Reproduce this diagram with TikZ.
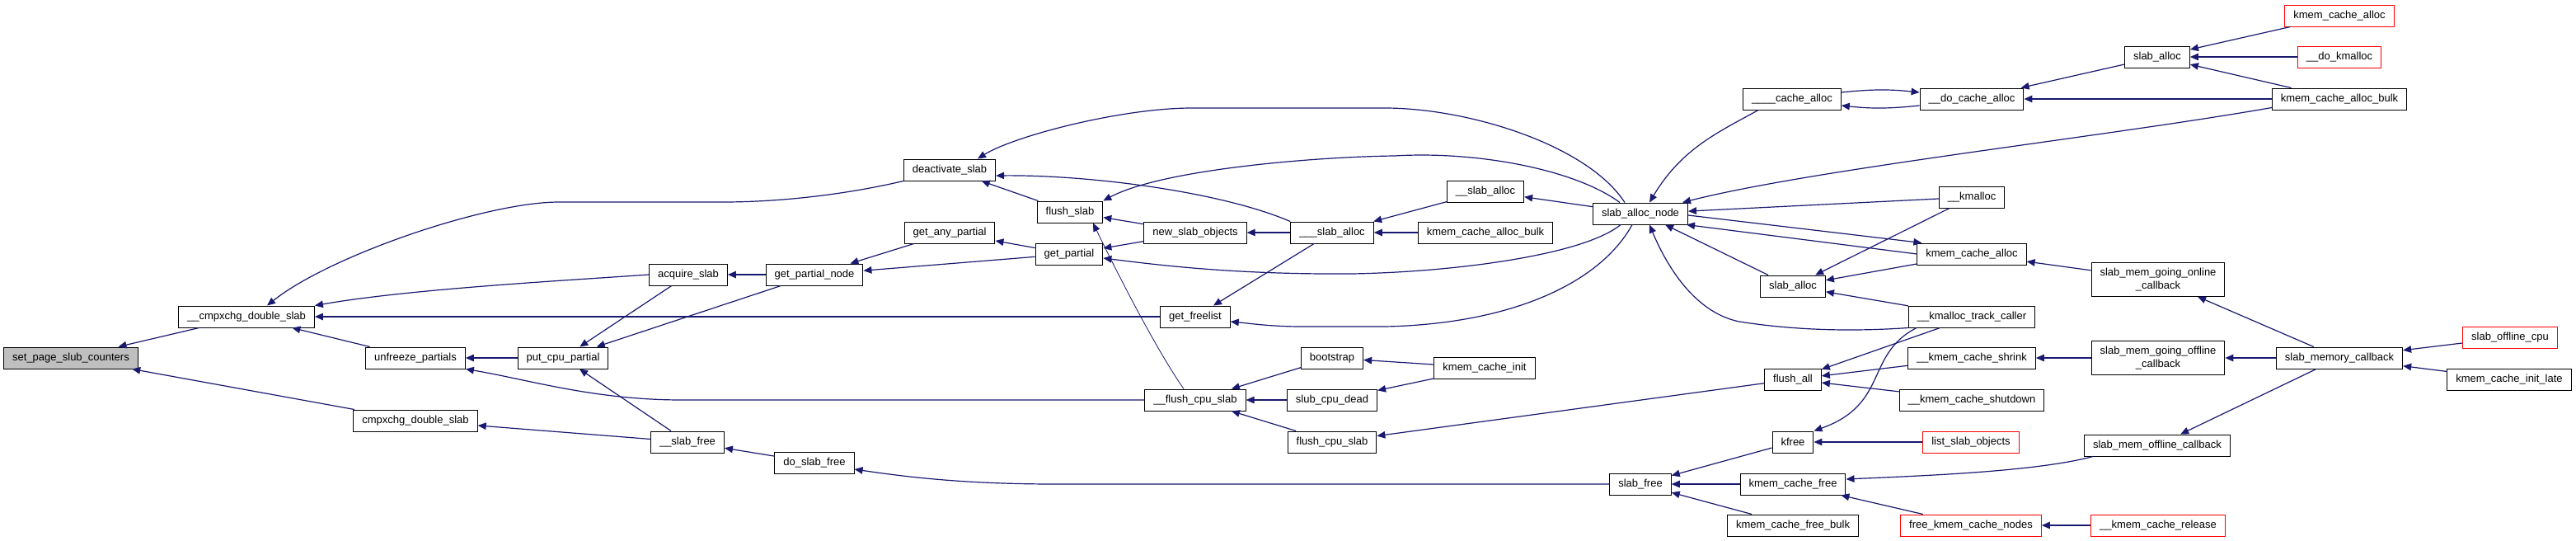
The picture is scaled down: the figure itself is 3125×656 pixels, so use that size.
\documentclass[tikz,border=0pt]{standalone}
\usepackage{fontspec}
\setmainfont{Liberation Sans}
\usetikzlibrary{arrows.meta}
\definecolor{edgeblue}{HTML}{191970}
\definecolor{rootgray}{HTML}{BFBFBF}
\tikzset{
  fn/.style={draw=black, line width=1pt, fill=white, rectangle, align=center,
             font=\fontsize{13}{15.5}\selectfont, minimum height=26pt,
             inner xsep=10.5pt, inner ysep=6.5pt},
  fnroot/.style={fn, fill=rootgray},
  fntrunc/.style={fn, draw=red},
  call/.style={-{Triangle[length=10pt, width=8.5pt]}, line width=1.2pt, draw=edgeblue},
}
\begin{document}
\begin{tikzpicture}[x=1pt, y=-1pt]
    \fill[white] (0,0) rectangle (3125,656);
    \useasboundingbox (0,0) rectangle (3125,656);
    \node[fnroot] (sps) at (86,434) {set\_page\_slub\_counters};
    \node[fn] (cds) at (299,384) {\_\_cmpxchg\_double\_slab};
    \node[fn] (cdsl) at (504,510) {cmpxchg\_double\_slab};
    \node[fn] (up) at (504,434) {unfreeze\_partials};
    \node[fn] (pcp) at (683,434) {put\_cpu\_partial};
    \node[fn] (as) at (835,333) {acquire\_slab};
    \node[fn] (sf) at (834,536) {\_\_slab\_free};
    \node[fn] (gpn) at (988,333) {get\_partial\_node};
    \node[fn] (dsf) at (988,561) {do\_slab\_free};
    \node[fn] (ds) at (1152,206) {deactivate\_slab};
    \node[fn] (gap) at (1152,282) {get\_any\_partial};
    \node[fn] (fs) at (1298,257) {flush\_slab};
    \node[fn] (gp) at (1297,308) {get\_partial};
    \node[fn] (nso) at (1450,282) {new\_slab\_objects};
    \node[fn] (gf) at (1450,384) {get\_freelist};
    \node[fn] (fcs) at (1450,485) {\_\_flush\_cpu\_slab};
    \node[fn] (tsa) at (1616,282) {\_\_\_slab\_alloc};
    \node[fn] (bs) at (1616,434) {bootstrap};
    \node[fn] (scd) at (1616,485) {slub\_cpu\_dead};
    \node[fn] (fcps) at (1616,536) {flush\_cpu\_slab};
    \node[fn] (usa) at (1802,232) {\_\_slab\_alloc};
    \node[fn] (kcabm) at (1802,282) {kmem\_cache\_alloc\_bulk};
    \node[fn] (kci) at (1801,446) {kmem\_cache\_init};
    \node[fn] (san) at (1990,259) {slab\_alloc\_node};
    \node[fn] (slf) at (1990,587) {slab\_free};
    \node[fn] (ca4) at (2174,120) {\_\_\_\_cache\_alloc};
    \node[fn] (sam) at (2175,347) {slab\_alloc};
    \node[fn] (fa) at (2175,460) {flush\_all};
    \node[fn] (kf) at (2175,536) {kfree};
    \node[fn] (kcf) at (2175,587) {kmem\_cache\_free};
    \node[fn] (kcfb) at (2175,637) {kmem\_cache\_free\_bulk};
    \node[fn] (dca) at (2392,120) {\_\_do\_cache\_alloc};
    \node[fn] (km) at (2392,239) {\_\_kmalloc};
    \node[fn] (kcam) at (2392,308) {kmem\_cache\_alloc};
    \node[fn] (kmtc) at (2392,384) {\_\_kmalloc\_track\_caller};
    \node[fn] (kcs) at (2392,434) {\_\_kmem\_cache\_shrink};
    \node[fn] (kcsd) at (2392,485) {\_\_kmem\_cache\_shutdown};
    \node[fntrunc] (lso) at (2391,536) {list\_slab\_objects};
    \node[fntrunc] (fkcn) at (2391,637) {free\_kmem\_cache\_nodes};
    \node[fn] (sat) at (2617,69) {slab\_alloc};
    \node[fn] (smgoc) at (2618,339) {slab\_mem\_going\_online\\\_callback};
    \node[fn] (smgofc) at (2618,434) {slab\_mem\_going\_offline\\\_callback};
    \node[fn] (smoc) at (2617,540) {slab\_mem\_offline\_callback};
    \node[fntrunc] (kcr) at (2618,637) {\_\_kmem\_cache\_release};
    \node[fntrunc] (kcar) at (2838,19) {kmem\_cache\_alloc};
    \node[fntrunc] (dkm) at (2838,69) {\_\_do\_kmalloc};
    \node[fn] (kcabt) at (2838,120) {kmem\_cache\_alloc\_bulk};
    \node[fn] (smc) at (2838,434) {slab\_memory\_callback};
    \node[fntrunc] (soc) at (3045,409) {slab\_offline\_cpu};
    \node[fn] (kcil) at (3044,460) {kmem\_cache\_init\_late};

    \draw[call] (cds) -- (sps);
    \draw[call] (cdsl) -- (sps);
    \draw[call] (ds.south west) .. controls (1030,235) and (950,245) .. (877,245) -- (678,245)
      .. controls (590,245) and (400,310) .. ([xshift=25pt]cds.north);
    \draw[call] (as.west) .. controls (690,340) and (500,350) .. (cds.north east);
    \draw[call] (gf) -- (cds);
    \draw[call] (up) -- (cds);
    \draw[call] (pcp) -- (up);
    \draw[call] (fcs.west) -- (827,485) .. controls (720,485) and (640,460) .. (up.south east);
    \draw[call] (as) -- (pcp);
    \draw[call] (gpn) -- (pcp);
    \draw[call] (sf) -- (pcp);
    \draw[call] (sf) -- (cdsl);
    \draw[call] (dsf) -- (sf);
    \draw[call] (slf.west) -- (1280,587) .. controls (1180,587) and (1110,580) .. ([yshift=-8pt]dsf.east);
    \draw[call] (gpn) -- (as);
    \draw[call] (gap) -- (gpn);
    \draw[call] (gp) -- (gpn);
    \draw[call] (gp) -- (gap);
    \draw[call] (nso) -- (gp);
    \draw[call] (nso) -- (fs);
    \draw[call] (fs) -- (ds);
    \draw[call] (tsa.north west) .. controls (1480,232) and (1320,212) .. ([yshift=-7pt]ds.east);
    \draw[call] ([xshift=-19pt]san.north) .. controls (1925,175) and (1780,131) .. (1680,131) -- (1446,131)
      .. controls (1360,131) and (1230,165) .. ([xshift=34pt]ds.north);
    \draw[call] ([xshift=-25pt]san.north) .. controls (1910,205) and (1790,183) .. (1692,189)
      .. controls (1600,190) and (1410,205) .. (fs.north east);
    \draw[call] (tsa) -- (nso);
    \draw[call] ([xshift=-24pt]san.south) .. controls (1920,310) and (1760,330) .. (1640,332)
      .. controls (1500,333) and (1410,322) .. ([yshift=-5pt]gp.east);
    \draw[call] (tsa) -- (gf);
    \draw[call] ([xshift=-10pt]san.south) .. controls (1940,345) and (1830,393) .. (1680,396) -- (1580,396)
      .. controls (1540,396) and (1515,392) .. ([yshift=-6pt]gf.east);
    \draw[call, line width=0.8pt] ([xshift=-14pt]fcs.north) .. controls (1400,420) and (1350,320) .. ([xshift=28pt]fs.south);
    \draw[call] (bs) -- (fcs);
    \draw[call] (scd) -- (fcs);
    \draw[call] (fcps) -- (fcs);
    \draw[call] (kci) -- (bs);
    \draw[call] (kci) -- (scd);
    \draw[call] (fa) -- (fcps);
    \draw[call] (usa) -- (tsa);
    \draw[call] (kcabm) -- (tsa);
    \draw[call] (san) -- (usa);
    \draw[call] ([xshift=-41pt]ca4.south) .. controls (2085,160) and (2040,180) .. ([xshift=11pt]san.north);
    \draw[call] ([yshift=3pt]kcabt.south west) .. controls (2560,165) and (2200,205) .. ([xshift=-7pt]san.north east);
    \draw[call] (km) -- (san);
    \draw[call] ([yshift=-2pt]san.east) -- ([xshift=6pt]kcam.north west);
    \draw[call] (kcam.west) -- ([xshift=-2pt]san.south east);
    \draw[call] ([xshift=-30pt]sam.north) -- ([xshift=30pt]san.south);
    \draw[call] (kmtc.south west) .. controls (2250,402) and (2180,401) .. (2110,390)
      .. controls (2060,380) and (2025,330) .. ([xshift=11pt]san.south);
    \draw[call] (km) -- (sam);
    \draw[call] (kcam) -- (sam);
    \draw[call] (kmtc) -- (sam);
    \draw[call] (kmtc) -- (fa);
    \draw[call] ([xshift=-67pt]kmtc.south) .. controls (2262,430) and (2292,490) .. (kf.north east);
    \draw[call] (kcs) -- (fa);
    \draw[call] (kcsd) -- (fa);
    \draw[call] (lso) -- (kf);
    \draw[call] (kf) -- (slf);
    \draw[call] (kcf) -- (slf);
    \draw[call] (kcfb) -- (slf);
    \draw[call] (fkcn) -- (kcf);
    \draw[call] (kcr) -- (fkcn);
    \draw[call] ([xshift=-78pt]smoc.south) .. controls (2470,572) and (2330,577) .. ([yshift=6pt]kcf.east);
    \draw[call] (smc) -- (smgoc);
    \draw[call] (smc) -- (smgofc);
    \draw[call] (smc) -- (smoc);
    \draw[call] (soc) -- (smc);
    \draw[call] (kcil) -- (smc);
    \draw[call] (smgofc) -- (kcs);
    \draw[call] (smgoc) -- (kcam);
    \draw[call] (sat) -- (dca);
    \draw[call] (kcabt) -- (dca);
    \draw[call] ([yshift=8pt]ca4.east) to[bend left=6] ([yshift=8pt]dca.west);
    \draw[call] ([yshift=-8pt]dca.west) to[bend left=6] ([yshift=-8pt]ca4.east);
    \draw[call] (kcar) -- (sat);
    \draw[call] (dkm) -- (sat);
    \draw[call] (kcabt) -- (sat);
  \end{tikzpicture}
\end{document}
